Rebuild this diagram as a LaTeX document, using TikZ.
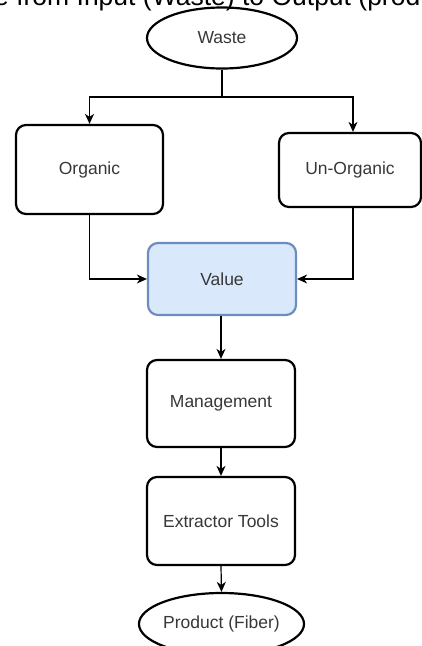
\documentclass[tikz,border=0pt]{standalone}
\usepackage{fontspec}
\setmainfont{Liberation Sans}
\usetikzlibrary{arrows.meta,shapes.geometric}
\definecolor{valfill}{HTML}{DAE8FC}
\definecolor{valdraw}{HTML}{6C8EBF}
\begin{document}
\begin{tikzpicture}[x=1pt,y=-1pt,
  lbl/.style={font=\fontsize{17.5}{20}\selectfont, text=black!78},
  box/.style={lbl, draw=black, line width=2.2pt, rounded corners=10pt, fill=white, inner sep=0pt},
  term/.style={lbl, draw=black, ellipse, line width=2.2pt, fill=white, inner sep=0pt},
  wire/.style={line width=1.2pt},
  conn/.style={line width=1.2pt, -{Stealth[length=10pt,width=9pt,inset=3pt]}}
]
\useasboundingbox (0,0) rectangle (422,646);
\clip (0,0) rectangle (422,646);
\node[term, minimum width=150pt, minimum height=61pt] (waste) at (222,38) {Waste};
\node[box, minimum width=147pt, minimum height=89pt] (organic) at (89.5,169.5) {Organic};
\node[box, minimum width=142pt, minimum height=74pt] (unorg) at (350,170) {Un-Organic};
\node[box, draw=valdraw, fill=valfill, minimum width=148pt, minimum height=72pt] (value) at (222,279) {Value};
\node[box, minimum width=148pt, minimum height=87pt] (mgmt) at (221,403.5) {Management};
\node[box, minimum width=148pt, minimum height=88pt] (extr) at (221,521) {Extractor Tools};
\node[term, minimum width=149pt, minimum height=62pt] (prod) at (221.5,624) {Product (Fiber)};
\node[anchor=base west, inner sep=0pt, font=\fontsize{26.5}{29}\selectfont] (title) at (-6,5) {e from Input (Waste) to Output (prod};
\coordinate (split) at (222,97);
\coordinate (uotop) at ([xshift=3pt]unorg.north);
\coordinate (uobot) at ([xshift=3pt]unorg.south);
\draw[wire] (waste.south) -- (split);
\draw[conn] (split) -| (organic.north);
\draw[conn] (split) -| (uotop);
\draw[conn] (organic.south) |- (value.west);
\draw[conn] (uobot) |- (value.east);
\draw[conn] (value.south -| mgmt.north) -- (mgmt.north);
\draw[conn] (mgmt.south) -- (extr.north);
\draw[conn] (extr.south) -- (prod.north);
\end{tikzpicture}
\end{document}
